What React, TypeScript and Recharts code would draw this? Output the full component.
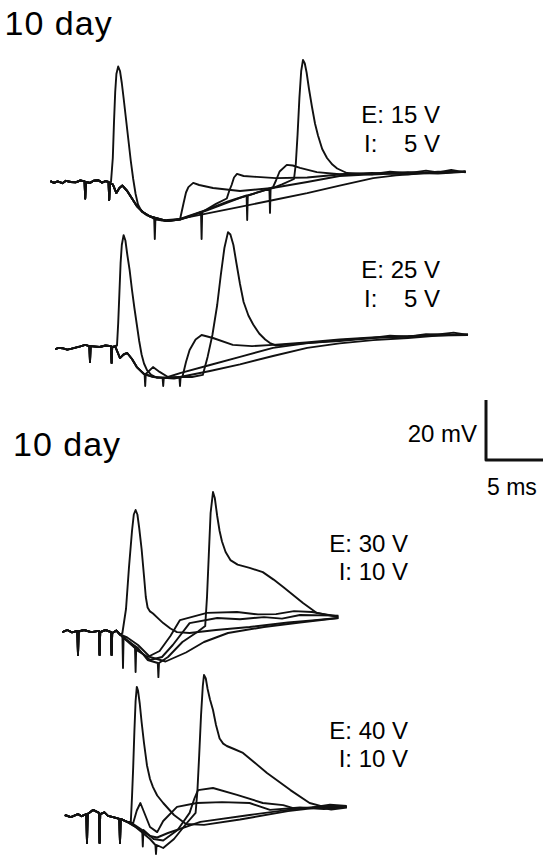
import { LineChart, Line, XAxis, YAxis } from 'recharts';

type Pair = [number, number]; // [time ms, potential mV]

// 12 px per ms, 3 px per mV (the 5 ms / 20 mV bar is ~60 px each way)
const PX_PER_MS = 12;
const PX_PER_MV = 3;

// ---- panel 1: 10 day, E 15 V / I 5 V ----
const p1Lead: Pair[] = [[0.2, 0.3], [0.5, -0.3], [0.8, 0.2], [1.2, -0.4], [1.5, 0.4], [1.9, 0], [2.3, -0.1], [2.7, 0.5], [3.05, 0.2], [3.1, -5.5], [3.15, 0], [3.5, -0.3], [3.8, 0.4], [4.2, 0.6], [4.5, -0.2], [4.8, 0.3], [5.05, 0], [5.1, -6], [5.15, -0.5]];
const p1Quiet: Pair[] = [[5.4, -0.8], [5.7, -3.7], [5.95, -2], [6.2, -1.2], [6.6, -3], [7.0, -5.5], [7.4, -8], [7.9, -10], [8.5, -11.5]];
const p1Spike: Pair[] = [[5.25, 0], [5.4, 8], [5.5, 20], [5.6, 30], [5.7, 36], [5.85, 38.5], [6.0, 37], [6.15, 33], [6.3, 28], [6.5, 21], [6.7, 14], [6.9, 7], [7.1, 1], [7.3, -4], [7.5, -7.5], [7.8, -9.8], [8.2, -11], [9.5, -12.8], [11, -12.3], [13.5, -10.3], [16, -8.3], [18.8, -6], [21.6, -3.7], [24.3, -1.2], [27.1, 1.3], [29, 2.2], [31, 2.8], [33, 3.2], [34.8, 3.4]];
const p1Late1: Pair[] = [[8.85, -12.3], [8.9, -19], [8.95, -12.5], [9.9, -13], [11, -12.5], [11.3, -7], [11.5, -3.5], [11.7, -1.7], [12.1, -0.3], [12.6, -1], [13.75, -2], [16, -3], [18.7, -2], [21.6, 0], [24.3, 2], [27, 2.6], [28.5, 3.4], [30, 2.9], [31.5, 3.8], [32.5, 3.2], [33.6, 4], [34.8, 3.2]];
const p1Late2: Pair[] = [[9.9, -13], [11, -12.5], [12, -11.3], [12.75, -10], [12.8, -19], [12.85, -10], [14, -7.3], [14.9, -5.5], [15.1, -3], [15.3, -1], [15.5, 1.5], [15.75, 2.7], [16.3, 2], [17.4, 1.7], [19, 1.3], [21.6, 1.5], [24.3, 2.5], [27, 2.8], [30, 3.3], [32.5, 3], [34.8, 3.6]];
const p1Late3: Pair[] = [[9.9, -13], [11, -12.3], [13.2, -9.3], [15, -6.5], [16.55, -4.5], [16.6, -12.7], [16.65, -4.5], [18, -2.8], [18.75, -1.7], [19.0, 0.5], [19.3, 3.5], [19.9, 5.7], [20.4, 5.5], [21, 4.7], [22.4, 3.3], [24.3, 2.6], [27, 3], [30, 2.6], [32.5, 3.4], [34.8, 3.3]];
const p1Late4: Pair[] = [[9.9, -13], [11, -12.5], [13.2, -9.5], [16, -5.3], [18.45, -2.3], [18.5, -10.3], [18.55, -2.3], [19.5, -0.8], [20.5, 1], [20.65, 6], [20.8, 16], [20.95, 28], [21.1, 37], [21.25, 40.7], [21.4, 39.5], [21.55, 36.5], [21.75, 31], [22, 25], [22.25, 19.5], [22.5, 15.5], [22.85, 11], [23.25, 8], [23.7, 5.8], [24.1, 4.5], [24.9, 3], [27, 2.5], [30, 3.1], [32.5, 2.8], [34.8, 3.4]];

// ---- panel 2: 10 day, E 25 V / I 5 V ----
const p2Lead: Pair[] = [[0.6, -0.7], [0.9, -0.3], [1.2, -0.4], [1.6, -0.9], [1.9, -0.6], [2.3, -0.2], [2.7, 0.2], [3.1, 0.7], [3.45, 0.3], [3.5, -5], [3.55, 0.3], [4.3, 0], [4.8, 0.5], [5.25, 0.3], [5.3, -5.3], [5.35, 0]];
const p2Quiet: Pair[] = [[5.6, 0.2], [6.0, -3.7], [6.3, -2.5], [6.6, -2], [7.0, -4], [7.4, -6.7], [8.0, -9]];
const p2Spike: Pair[] = [[5.75, 0.5], [5.85, 8], [5.95, 18], [6.05, 28], [6.15, 34], [6.3, 37.3], [6.45, 35.5], [6.6, 31], [6.8, 25.7], [7.0, 19], [7.2, 13], [7.4, 7.5], [7.6, 2], [7.8, -2.5], [8.0, -5.5], [8.25, -7.7], [8.6, -9.3], [9.1, -10.3], [11, -10], [13.5, -8], [16, -5.8], [18.75, -3], [21.6, -0.3], [24.3, 1.2], [27.1, 2.3], [30, 3], [32.5, 3.8], [35, 4]];
const p2Late1: Pair[] = [[8.05, -9], [8.1, -13], [8.15, -9], [8.75, -6.7], [9.3, -8.3], [10, -10], [11, -8.7], [13.5, -6], [16, -3.3], [18.75, -0.3], [21.5, 1.2], [24.3, 2.3], [27, 3], [28.5, 3.8], [30, 3.4], [31.5, 4.3], [32.5, 4.2], [33.8, 4.8], [35, 4]];
const p2Late2: Pair[] = [[8.8, -10], [9.55, -10.3], [9.6, -13], [9.65, -10.3], [10.5, -10.5], [11.2, -10], [11.5, -5], [11.8, -1], [12.3, 2.5], [12.8, 4], [13.75, 3], [15.4, 0.7], [17, 0.3], [18.75, 0.7], [21.5, 1.5], [24.3, 2.5], [27, 3.2], [30, 3.6], [32.5, 3.8], [35, 4.3]];
const p2Late3: Pair[] = [[8.8, -10], [10, -10.3], [10.95, -10], [11, -13], [11.05, -10], [12, -10], [12.9, -9.3], [13.3, -3.3], [13.7, 4], [14.1, 14], [14.4, 24], [14.7, 33], [15, 38.3], [15.2, 37.5], [15.45, 34], [15.7, 28], [16, 21], [16.3, 15], [16.7, 10.5], [17.1, 7.5], [17.6, 4.5], [18.1, 2.5], [18.5, 1.3], [19, 0.5], [21.5, 1.3], [24.3, 2], [27, 3], [30, 3.5], [32.5, 4.2], [35, 4]];

// ---- panel 3: 10 day, E 30 V / I 10 V ----
const p3Lead: Pair[] = [[1.2, 0.3], [1.6, 1], [2.0, 0.2], [2.45, 0.7], [2.5, -7.3], [2.55, 0.5], [3, 1], [3.6, 0.3], [4.25, 0.7], [4.3, -7.3], [4.35, 0.3], [4.8, 1], [5.25, 0.3], [5.3, -7.3], [5.35, 0], [5.7, 0.8], [6.0, -0.5]];
const p3Spike: Pair[] = [[6.2, 0], [6.5, 8], [6.75, 22], [7.0, 34], [7.15, 39.5], [7.3, 41], [7.45, 39.5], [7.6, 35], [7.8, 28], [8.0, 19], [8.15, 12], [8.3, 8.5], [8.5, 7.2], [8.75, 6.5], [9.2, 4.8], [9.6, 3.3], [10.2, 1.5], [10.75, 0.3], [11.8, 0], [14, 1], [16.8, 2], [20, 3.5], [22, 4.2], [24.2, 5]];
const p3Late1: Pair[] = [[6.2, -0.8], [6.25, -11.7], [6.3, -1.5], [6.8, -3], [7.5, -6], [8.3, -8], [9.3, -6], [10.2, -1], [11, 4.3], [13.25, 6.7], [15.75, 7], [17.5, 6.2], [19, 6.3], [20.5, 7.3], [22, 7], [23, 6.3], [24.2, 5.5]];
const p3Late2: Pair[] = [[6.4, -2], [7.25, -5], [7.3, -13], [7.35, -5], [8.5, -9], [9.5, -8], [10.4, -4], [11.8, 3.3], [14.1, 5], [16, 4.6], [18, 5.3], [19.5, 4.8], [21, 6], [24.2, 5.8]];
const p3Late3: Pair[] = [[6.6, -2.5], [7.5, -5], [8.3, -9], [9.15, -10], [9.2, -14.7], [9.25, -10], [10, -8], [11.2, -3], [12.5, 0.5], [13.1, 2.3], [13.25, 12], [13.4, 26], [13.55, 40], [13.75, 47], [13.9, 45], [14.1, 39], [14.3, 34], [14.5, 30.5], [14.8, 27], [15.2, 24.3], [15.8, 22.8], [16.8, 21.7], [17.9, 20.3], [18.8, 17.8], [19.6, 15.3], [21.25, 10], [22.4, 6.7], [24.2, 5.3]];
const p3Late4: Pair[] = [[6.6, -1.5], [7.5, -4], [8.5, -8], [9.8, -9.5], [11.5, -6.5], [13, -3], [15, 0], [18, 2], [21, 3.5], [24.2, 5]];

// ---- panel 4: 10 day, E 40 V / I 10 V ----
const p4Lead: Pair[] = [[1.4, 0], [1.9, -0.7], [2.5, 0.3], [2.8, -0.4], [3.2, 0.3], [3.25, -9.3], [3.3, 0.3], [3.75, 1.7], [4.25, 0.7], [4.3, -9.3], [4.35, 0.3], [4.7, 0.9], [5, -0.3], [5.5, -0.8], [5.95, -1.3], [6, -9.3], [6.05, -1.3], [6.6, -2.3]];
const p4Spike: Pair[] = [[6.9, -2.3], [7.0, 6], [7.1, 16], [7.2, 28], [7.3, 38], [7.4, 42.7], [7.5, 41.5], [7.65, 37], [7.8, 31], [8.0, 24], [8.25, 16.5], [8.5, 12], [8.75, 9.3], [9.1, 6.5], [9.6, 4], [10.5, 0], [11.5, -3], [13, -3.3], [16, -1.5], [20, 1.3], [22.5, 2.5], [24.9, 2.7]];
const p4Late1: Pair[] = [[7.1, -2.7], [7.4, 1.5], [7.7, 4], [8.1, 0], [8.5, -4], [9.1, -5.7], [9.6, -2], [10.75, 2.7], [12.4, 4], [14.5, 4.3], [16.8, 4], [18.5, 1.7], [21, 2.5], [23, 2], [24.9, 2.7]];
const p4Late2: Pair[] = [[7.1, -3], [7.85, -5], [7.9, -10.5], [7.95, -5], [8.8, -8], [9.6, -8.5], [10.8, -5], [11.8, 0.7], [12.2, 5.5], [12.5, 8.3], [13.75, 9], [15.75, 6.7], [17.9, 4], [19.6, 3.3], [20.5, 2.2], [22, 2.5], [23.5, 3.4], [24.9, 3]];
const p4Late3: Pair[] = [[7.3, -4], [8.5, -8], [8.95, -10], [9.0, -13], [9.05, -10], [9.6, -11], [10.5, -8], [11.5, -3], [12.3, 0.7], [12.45, 8], [12.6, 20], [12.75, 33], [12.9, 43], [13, 46.7], [13.15, 45.5], [13.3, 42], [13.5, 38.5], [13.75, 35], [14, 30], [14.3, 25.5], [14.6, 23.8], [14.9, 23], [15.5, 22], [16.25, 20.7], [18.25, 14], [20.2, 8.3], [21.8, 4], [23, 2.7], [24.9, 2.7]];
const p4Late4: Pair[] = [[7.3, -4], [8.5, -7], [9.1, -7.5], [10, -6], [12.7, -2.3], [16.8, 0], [20, 1.7], [22.4, 2.7], [23.6, 1.8], [24.9, 2.5]];

// calibration bar: 5 ms, 20 mV
const scaleBar: Pair[] = [[0, 20], [0, 0], [5, 0]];

const panels = [
  { x0: 48, y0: 182, tMax: 36, vMin: -22, vMax: 45, traces: [p1Lead.concat(p1Spike), p1Lead.concat(p1Quiet, p1Late1), p1Lead.concat(p1Quiet, p1Late2), p1Lead.concat(p1Quiet, p1Late3), p1Lead.concat(p1Quiet, p1Late4)] },
  { x0: 48, y0: 347, tMax: 36, vMin: -22, vMax: 45, traces: [p2Lead.concat(p2Spike), p2Lead.concat(p2Quiet, p2Late1), p2Lead.concat(p2Quiet, p2Late2), p2Lead.concat(p2Quiet, p2Late3)] },
  { x0: 48, y0: 633, tMax: 36, vMin: -17, vMax: 50, traces: [p3Lead.concat(p3Spike), p3Lead.concat(p3Late1), p3Lead.concat(p3Late2), p3Lead.concat(p3Late3), p3Lead.concat(p3Late4)] },
  { x0: 48, y0: 815, tMax: 36, vMin: -14, vMax: 50, traces: [p4Lead.concat(p4Spike), p4Lead.concat(p4Late1), p4Lead.concat(p4Late2), p4Lead.concat(p4Late3), p4Lead.concat(p4Late4)] },
];

const toPoints = (pairs: Pair[]) => pairs.map(([t, v]) => ({ t, v }));

function Traces({ x0, y0, tMin = 0, tMax, vMin, vMax, traces, sw = 1.9 }: any) {
  const w = (tMax - tMin) * PX_PER_MS;
  const h = (vMax - vMin) * PX_PER_MV;
  return (
    <div style={{ position: 'absolute', left: x0 + tMin * PX_PER_MS, top: y0 - vMax * PX_PER_MV }}>
      <LineChart width={w} height={h} margin={{ top: 0, right: 0, bottom: 0, left: 0 }}>
        <XAxis type="number" dataKey="t" domain={[tMin, tMax]} hide allowDataOverflow />
        <YAxis type="number" domain={[vMin, vMax]} hide allowDataOverflow />
        {traces.map((tr: Pair[], i: number) => (
          <Line key={i} data={toPoints(tr)} dataKey="v" type="linear" dot={false} stroke="#111"
            strokeWidth={sw} strokeLinejoin="round" isAnimationActive={false} />
        ))}
      </LineChart>
    </div>
  );
}

const font = '"Liberation Sans", Arial, Helvetica, sans-serif';

export default function App() {
  return (
    <div style={{ position: 'absolute', left: 0, top: 0, width: 543, height: 856, overflow: 'hidden', background: '#fff', fontFamily: font }}>
      {panels.map((p, i) => <Traces key={i} {...p} />)}
      <Traces x0={486} y0={460} tMin={-0.5} tMax={5.4} vMin={-1.7} vMax={21.7} traces={[scaleBar]} sw={3} />
      <svg width={543} height={856} style={{ position: 'absolute', left: 0, top: 0 }} fontFamily={font} fill="#000">
        <text x={4.6} y={35} fontSize={34} letterSpacing={1}>10 day</text>
        <text x={13} y={456} fontSize={34} letterSpacing={1}>10 day</text>

        <text x={440} y={123.3} fontSize={24} textAnchor="end">E: 15 V</text>
        <text x={364} y={151.7} fontSize={24}>I:</text>
        <text x={440} y={151.7} fontSize={24} textAnchor="end">5 V</text>

        <text x={440} y={278.3} fontSize={24} textAnchor="end">E: 25 V</text>
        <text x={364} y={306.7} fontSize={24}>I:</text>
        <text x={440} y={306.7} fontSize={24} textAnchor="end">5 V</text>

        <text x={408} y={551.7} fontSize={24} textAnchor="end">E: 30 V</text>
        <text x={408} y={580} fontSize={24} textAnchor="end">I: 10 V</text>

        <text x={408} y={739} fontSize={24} textAnchor="end">E: 40 V</text>
        <text x={408} y={767} fontSize={24} textAnchor="end">I: 10 V</text>

        <text x={477} y={441.7} fontSize={24} textAnchor="end">20 mV</text>
        <text x={487} y={495} fontSize={23}>5 ms</text>
      </svg>
    </div>
  );
}
